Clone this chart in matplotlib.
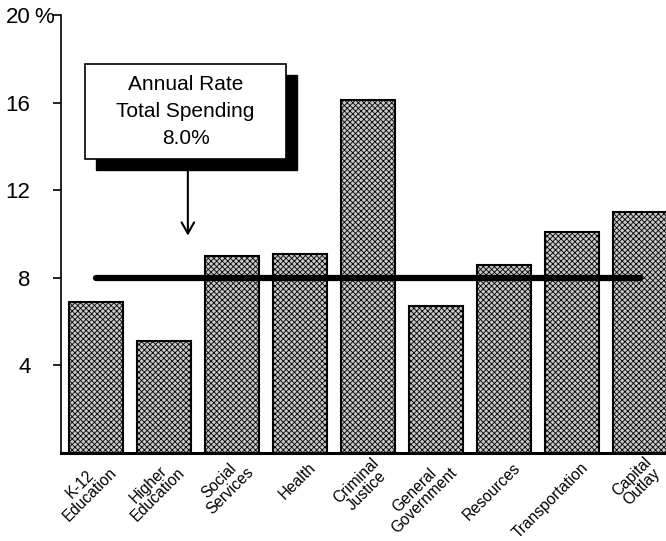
import numpy as np
import matplotlib
matplotlib.use('Agg')
import matplotlib.pyplot as plt
from matplotlib.patches import Rectangle

# 数据
categories = ["K-12\nEducation", "Higher\nEducation", "Social\nServices", "Health",
              "Criminal\nJustice", "General\nGovernment", "Resources",
              "Transportation", "Capital\nOutlay"]
growth = [6.9, 5.1, 9.0, 9.1, 16.1, 6.7, 8.6, 10.1, 11.0]
total_rate = 8.0
ytick_vals = [4, 8, 12, 16, 20]
ytick_labels = ["4", "8", "12", "16", "20"]

plt.rcParams['font.family'] = ['Liberation Sans', 'DejaVu Sans']
plt.rcParams['hatch.color'] = '#858585'
plt.rcParams['hatch.linewidth'] = 0.6

fig = plt.figure(figsize=(6.66, 5.41), dpi=100)
ax = fig.add_axes([61 / 666, 88 / 541, 605 / 666, 438 / 541])

x = np.arange(len(categories))
ax.bar(x, growth, width=0.8, color='#c8c8c8', edgecolor='black', linewidth=1.5,
       hatch='xxxxxx', zorder=2)

# 平均线
ax.plot([x[0], x[-1]], [total_rate, total_rate], color='black', lw=4.5,
        solid_capstyle='round', zorder=3)

ax.set_xlim(-0.515, 8.38)
ax.set_ylim(0, 20)
for s in ['top', 'right']:
    ax.spines[s].set_visible(False)
ax.spines['left'].set_linewidth(1.2)
ax.spines['bottom'].set_linewidth(2.2)

ax.set_yticks(ytick_vals)
ax.set_yticklabels(ytick_labels, fontsize=16)
ax.tick_params(axis='y', direction='out', length=6, width=1.2, pad=16)
ax.set_xticks([])
ax.text(-0.045, 20, "%", transform=ax.get_yaxis_transform(), fontsize=16,
        ha='left', va='center_baseline')

# 类别标签
for i, lab in enumerate(categories):
    ax.text(i + 0.2, -0.55, lab, rotation=45, rotation_mode='anchor',
            ha='right', va='center', fontsize=11.2,
            multialignment='center', linespacing=0.95, clip_on=False)

# 说明框
bx0, bx1, by0, by1 = -0.162, 2.794, 13.42, 17.76
ax.add_patch(Rectangle((bx0 + 0.165, by0 - 0.5), bx1 - bx0, by1 - by0,
                       facecolor='black', edgecolor='black', zorder=4))
ax.add_patch(Rectangle((bx0, by0), bx1 - bx0, by1 - by0,
                       facecolor='white', edgecolor='black', lw=1.2, zorder=5))
ax.text((bx0 + bx1) / 2, (by0 + by1) / 2, "Annual Rate\nTotal Spending\n8.0%",
        ha='center', va='center', fontsize=15, linespacing=1.55, zorder=6)
ax.annotate("", xy=(1.35, 9.8), xytext=(1.35, 13.42),
            arrowprops=dict(arrowstyle='->,head_length=0.8,head_width=0.45',
                            color='black', lw=1.5), zorder=6)

plt.savefig('out.png', dpi=100)
